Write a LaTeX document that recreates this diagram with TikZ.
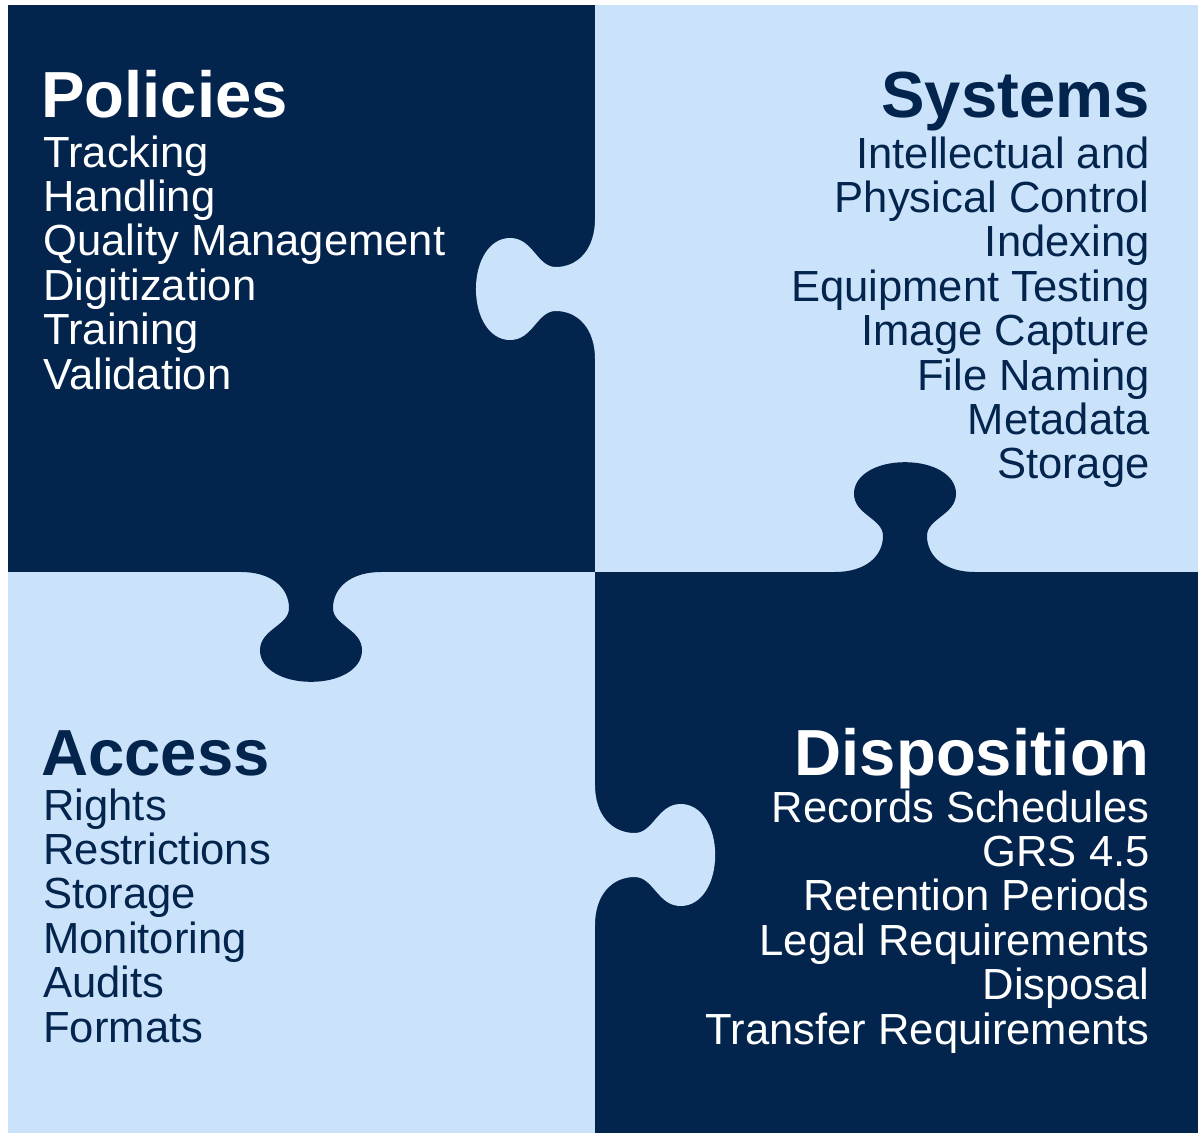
\documentclass[tikz,border=0pt]{standalone}
\usepackage{fontspec}
\setmainfont{Liberation Sans}
\definecolor{navy}{RGB}{3,36,77}
\definecolor{lightblue}{RGB}{202,227,250}
\newcommand\tabfill[1]{\fill[#1] (-70,-3) -- (-70,0) .. controls (-40,0) and (-22,16) .. (-22,38) .. controls (-22,56) and (-51,60) .. (-51,82) .. controls (-51,102) and (-28,115) .. (0,115) .. controls (28,115) and (51,102) .. (51,82) .. controls (51,60) and (22,56) .. (22,38) .. controls (22,16) and (40,0) .. (70,0) -- (70,-3) -- cycle;}
\begin{document}
\begin{tikzpicture}[x=0.02cm,y=-0.02cm,
 ttl/.style={inner sep=0pt, font=\fontsize{37.1pt}{40pt}\selectfont\bfseries},
 itm/.style={inner sep=0pt, font=\fontsize{24.8pt}{26pt}\selectfont}]
\fill[white] (0,0) rectangle (1198,1133);
\useasboundingbox (0,0) rectangle (1198,1133);
% quadrants
\fill[navy] (8,5) rectangle (595,572);
\fill[lightblue] (595,5) rectangle (1198,572);
\fill[lightblue] (8,572) rectangle (595,1133);
\fill[navy] (595,572) rectangle (1198,1133);
% tabs
\begin{scope}[shift={(595,289)}, x={(0cm,-0.02cm)}, y={(-0.0207cm,0cm)}]
  \tabfill{lightblue}
\end{scope}
\begin{scope}[shift={(905,572)}, x={(0.02cm,0cm)}, y={(0cm,0.0191cm)}]
  \tabfill{navy}
\end{scope}
\begin{scope}[shift={(311,572)}, x={(0.02cm,0cm)}, y={(0cm,-0.0191cm)}]
  \tabfill{navy}
\end{scope}
\begin{scope}[shift={(595,855)}, x={(0cm,-0.02cm)}, y={(0.0209cm,0cm)}]
  \tabfill{lightblue}
\end{scope}
% Policies
\node[ttl, text=white, anchor=base west] (policies) at (41,117) {Policies};
\foreach \t [count=\i] in {Tracking,Handling,Quality Management,Digitization,Training,Validation}
  \node[itm, text=white, anchor=base west] (pol\i) at (43,{167+44.4*(\i-1)}) {\t};
% Systems
\node[ttl, text=navy, anchor=base east] (systems) at (1150,117) {Systems};
\foreach \t [count=\i] in {Intellectual and,Physical Control,Indexing,Equipment Testing,Image Capture,File Naming,Metadata,Storage}
  \node[itm, text=navy, anchor=base east] (sys\i) at (1150,{168+44.4*(\i-1)}) {\t};
% Access
\node[ttl, text=navy, anchor=base west] (access) at (41,775) {Access};
\foreach \t [count=\i] in {Rights,Restrictions,Storage,Monitoring,Audits,Formats}
  \node[itm, text=navy, anchor=base west] (acc\i) at (43,{820+44.4*(\i-1)}) {\t};
% Disposition
\node[ttl, text=white, anchor=base east] (disposition) at (1150,775) {Disposition};
\foreach \t [count=\i] in {Records Schedules,GRS 4.5,Retention Periods,Legal Requirements,Disposal,Transfer Requirements}
  \node[itm, text=white, anchor=base east] (dis\i) at (1150,{822+44.4*(\i-1)}) {\t};
\end{tikzpicture}
\end{document}
